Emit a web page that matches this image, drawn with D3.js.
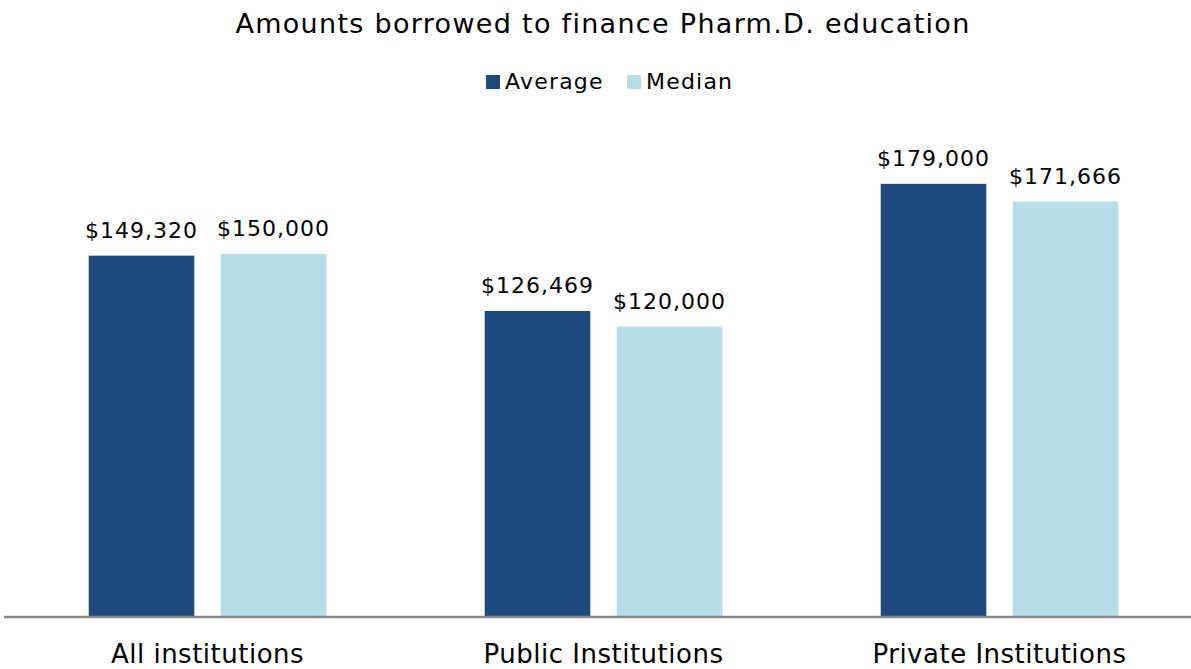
<!DOCTYPE html>
<html>
<head>
<meta charset="utf-8">
<script src="https://cdn.jsdelivr.net/npm/d3@7"></script>
<style>
  body { margin: 0; background: #fff; }
  text { font-family: "DejaVu Sans", Verdana, sans-serif; fill: #000; }
</style>
</head>
<body>
<script>
var width = 1191;
var height = 669;

var categories = ["All institutions", "Public Institutions", "Private Institutions"];
var seriesNames = ["Average", "Median"];
var averageValues = [149320, 126469, 179000];
var medianValues = [150000, 120000, 171666];
var colors = ["#1f497d", "#b7dde8"];

var svg = d3.select("body").append("svg")
    .attr("width", width)
    .attr("height", height);

var x0 = d3.scaleBand()
    .domain(categories)
    .range([9.5, 1197.5])
    .paddingInner(0.4)
    .paddingOuter(0.2);

var x1 = d3.scaleBand()
    .domain(seriesNames)
    .range([0, x0.bandwidth()])
    .paddingInner(0.2);

var yScale = d3.scaleLinear()
    .domain([0, 200000])
    .range([617, 133]);

var rows = categories.map(function(c, i) {
  return { cat: c, vals: [
    { name: "Average", v: averageValues[i] },
    { name: "Median", v: medianValues[i] }
  ]};
});

var fmt = d3.format("$,");

var groups = svg.selectAll(".grp")
    .data(rows)
    .enter()
    .append("g")
    .attr("class", "grp")
    .attr("transform", function(d) { return "translate(" + x0(d.cat) + ",0)"; });

groups.selectAll("rect")
    .data(function(d) { return d.vals; })
    .enter()
    .append("rect")
    .attr("x", function(d) { return x1(d.name); })
    .attr("width", x1.bandwidth())
    .attr("y", function(d) { return yScale(d.v); })
    .attr("height", function(d) { return yScale(0) - yScale(d.v); })
    .attr("fill", function(d, i) { return colors[i]; });

groups.selectAll(".val")
    .data(function(d) { return d.vals; })
    .enter()
    .append("text")
    .attr("class", "val")
    .attr("x", function(d) { return x1(d.name) + x1.bandwidth() / 2; })
    .attr("y", function(d) { return yScale(d.v) - 18; })
    .attr("text-anchor", "middle")
    .attr("font-size", 22)
    .attr("letter-spacing", 1)
    .text(function(d) { return fmt(d.v); });

// -- axis --
var xAxis = d3.axisBottom(x0).tickSize(0).tickPadding(28);
var ax = svg.append("g")
    .attr("transform", "translate(0," + yScale(0) + ")")
    .call(xAxis);
ax.select(".domain").remove();
ax.selectAll("text")
    .attr("font-family", "DejaVu Sans, sans-serif")
    .attr("font-size", 26)
    .attr("letter-spacing", 0.5)
    .attr("fill", "#000");

svg.append("line")
    .attr("x1", 4).attr("x2", width)
    .attr("y1", yScale(0)).attr("y2", yScale(0))
    .attr("stroke", "#888")
    .attr("stroke-width", 2.5);

// -- title --
svg.append("text")
    .attr("x", 603)
    .attr("y", 33)
    .attr("text-anchor", "middle")
    .attr("font-size", 27)
    .attr("letter-spacing", 1.3)
    .text("Amounts borrowed to finance Pharm.D. education");

// -- legend --
var legendX = [486, 627];
var legend = svg.selectAll(".leg")
    .data(seriesNames)
    .enter()
    .append("g")
    .attr("class", "leg")
    .attr("transform", function(d, i) { return "translate(" + legendX[i] + ",75)"; });
legend.append("rect")
    .attr("width", 14).attr("height", 14)
    .attr("fill", function(d, i) { return colors[i]; });
legend.append("text")
    .attr("x", 19)
    .attr("y", 14)
    .attr("font-size", 22)
    .attr("letter-spacing", 1.2)
    .text(function(d) { return d; });
</script>
</body>
</html>
